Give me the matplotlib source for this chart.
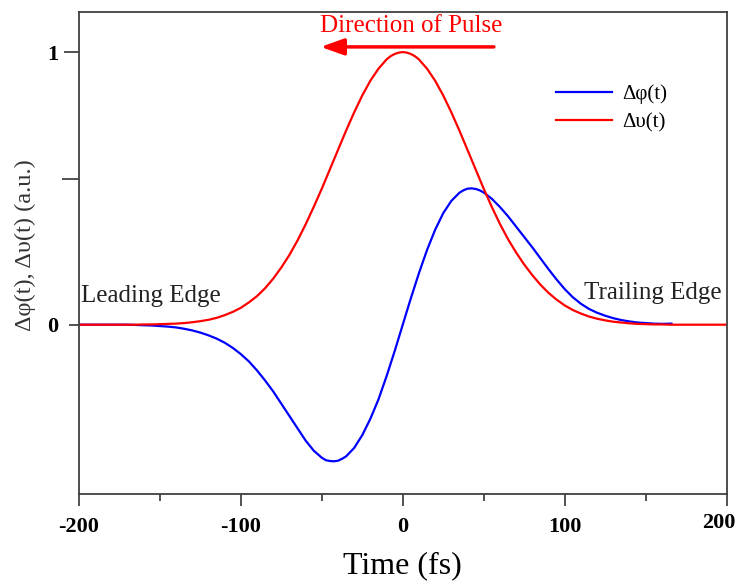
import matplotlib
matplotlib.use("Agg")
import matplotlib.pyplot as plt
import matplotlib.transforms as mtransforms

plt.rcParams['font.family'] = ['Liberation Serif', 'DejaVu Serif']

# ====== data (time in fs, a.u.) ======
t_phi = [-200, -190, -180, -170, -165, -160, -155, -150, -145, -140, -135, -130,
         -125, -120, -115, -110, -105, -100, -95, -90, -85, -80, -75, -70, -65,
         -60, -55, -50, -47.5, -45, -42.5, -40, -37.5, -35, -30, -25, -20, -15,
         -10, -5, 0, 5, 10, 15, 20, 25, 30, 35, 37.5, 40, 42.5, 45, 47.5, 50,
         55, 60, 65, 70, 75, 80, 85, 90, 95, 100, 105, 110, 115, 120, 125, 130,
         135, 140, 145, 150, 155, 160, 166]
d_phi = [0, 0, 0, 0, -0.001, -0.002, -0.003, -0.005, -0.007, -0.010, -0.015, -0.021,
         -0.029, -0.039, -0.051, -0.066, -0.085, -0.108, -0.135, -0.168, -0.205,
         -0.245, -0.290, -0.335, -0.380, -0.425, -0.462, -0.488, -0.497, -0.500,
         -0.501, -0.499, -0.492, -0.483, -0.452, -0.405, -0.345, -0.274, -0.189,
         -0.097, 0.0, 0.097, 0.189, 0.274, 0.348, 0.409, 0.454, 0.484, 0.493,
         0.499, 0.500, 0.498, 0.493, 0.485, 0.462, 0.432, 0.398, 0.360, 0.322,
         0.284, 0.244, 0.204, 0.166, 0.131, 0.101, 0.077, 0.058, 0.044, 0.033,
         0.024, 0.017, 0.012, 0.008, 0.006, 0.004, 0.003, 0.004]

t_nu = [-200, -190, -180, -170, -165, -160, -155, -150, -145, -140, -135, -130,
        -125, -120, -115, -110, -105, -100, -95, -90, -85, -80, -75, -70, -65,
        -60, -55, -50, -45, -40, -35, -30, -25, -20, -15, -10, -7.5, -5, -2.5,
        0, 2.5, 5, 7.5, 10, 15, 20, 25, 30, 35, 40, 45, 50, 55, 60, 65, 70, 75,
        80, 85, 90, 95, 100, 105, 110, 115, 120, 125, 130, 135, 140, 145, 150,
        155, 160, 165, 170, 180, 190, 200]
d_nu = [0, 0, 0, 0, 0, 0.001, 0.001, 0.002, 0.003, 0.004, 0.006, 0.009,
        0.013, 0.018, 0.025, 0.035, 0.047, 0.062, 0.082, 0.105, 0.134, 0.169,
        0.210, 0.256, 0.309, 0.368, 0.432, 0.499, 0.570, 0.641, 0.712, 0.779,
        0.841, 0.895, 0.939, 0.973, 0.985, 0.993, 0.998, 1.0, 0.998, 0.993,
        0.985, 0.973, 0.939, 0.895, 0.841, 0.779, 0.712, 0.641, 0.570, 0.499,
        0.432, 0.370, 0.314, 0.265, 0.221, 0.182, 0.147, 0.117, 0.092, 0.071,
        0.054, 0.041, 0.030, 0.022, 0.016, 0.011, 0.008, 0.005, 0.003, 0.002,
        0.001, 0.001, 0, 0, 0, 0, 0]

x_ticks = [-200, -100, 0, 100, 200]
x_minor = [-150, -50, 50, 150]
y_ticks = [0, 0.535, 1]
y_tick_labels = ['0', '', '1']

fig = plt.figure(figsize=(7.38, 5.81), dpi=100)
ax = fig.add_axes([79 / 738, 1 - 494 / 581, (726.5 - 79) / 738, (494 - 12) / 581])

l_phi, = ax.plot(t_phi, d_phi, color='#0000ff', lw=1.6, label='\u0394\u03c6(t)')
l_nu, = ax.plot(t_nu, d_nu, color='#ff0000', lw=1.6, label='\u0394\u03c5(t)')

ax.set_xlim(-200, 200)
ax.set_ylim(-0.621, 1.147)

ax.set_xticks(x_ticks)
ax.set_xticks(x_minor, minor=True)
ax.set_xticklabels([str(v) for v in x_ticks], fontsize=16, fontweight='bold')
ax.set_yticks(y_ticks)
ax.set_yticklabels(y_tick_labels, fontsize=16, fontweight='bold')
ax.tick_params(axis='x', which='major', direction='out', length=8.6, width=1.2,
               color='#333333', pad=8)
ax.tick_params(axis='x', which='minor', direction='out', length=5, width=1.2,
               color='#333333')
ax.tick_params(axis='y', which='major', direction='out', length=11, width=1.2,
               color='#333333', pad=4)
# tick lengths differ in the original
ticks = ax.yaxis.get_major_ticks()
ticks[0].tick1line.set_markersize(7)
ticks[1].tick1line.set_markersize(12)
ticks[2].tick1line.set_markersize(10.5)

# last x label sits a little left and up, inside the picture
last = ax.get_xticklabels()[-1]
last.set_transform(last.get_transform() +
                   mtransforms.ScaledTranslation(-0.08, 0.04, fig.dpi_scale_trans))

for s in ax.spines.values():
    s.set_color('#404040')
    s.set_linewidth(1.3)

ax.set_xlabel('Time (fs)', fontsize=23, labelpad=10)
fig.text(25 / 738, 1 - 245 / 581, '\u0394\u03c6(t), \u0394\u03c5(t) (a.u.)',
         rotation=90, ha='center', va='center', fontsize=17.5, color='#333333')

ax.text(-198.5, 0.083, 'Leading Edge', fontsize=18, color='#222222')
ax.text(111.9, 0.093, 'Trailing Edge', fontsize=18, color='#222222')
ax.text(5.5, 1.0745, 'Direction of Pulse', fontsize=18, color='#ff0000', ha='center')
ax.annotate('', xy=(-50.7, 1.019), xytext=(56.3, 1.019),
            arrowprops=dict(arrowstyle='-|>,head_length=0.7,head_width=0.25',
                            color='#ff0000', lw=2.5, shrinkA=0, shrinkB=0,
                            mutation_scale=20))

ax.legend(handles=[l_phi, l_nu], loc='upper left', bbox_to_anchor=(0.737, 0.85),
          frameon=False, fontsize=15, handlelength=2.7, handletextpad=0.45,
          labelspacing=0.42, borderpad=0, borderaxespad=0)

fig.savefig('out.png', dpi=100)
